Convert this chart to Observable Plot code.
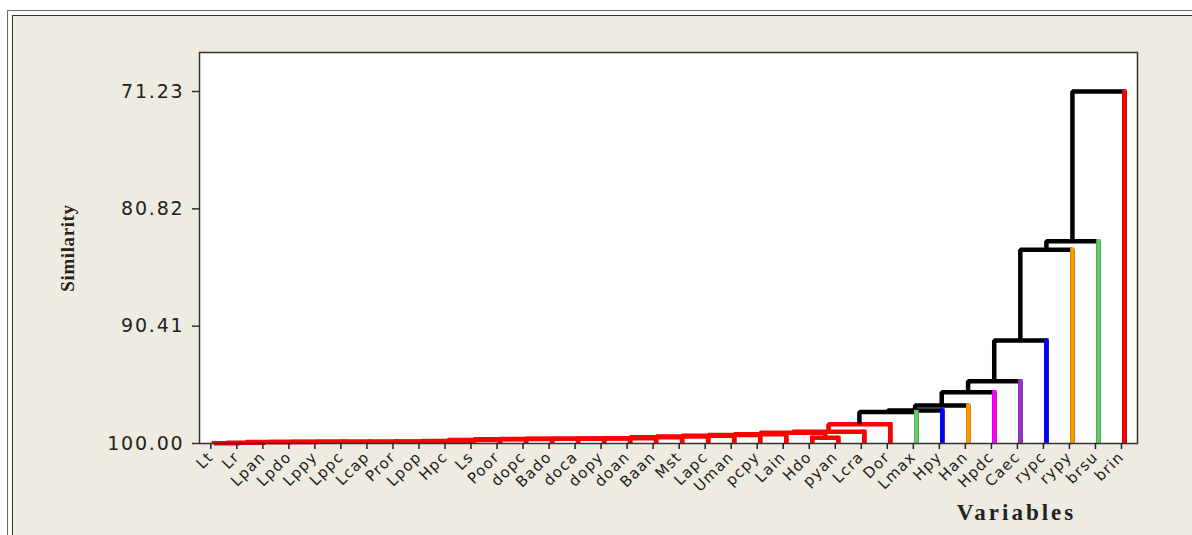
<!DOCTYPE html>
<html><head><meta charset="utf-8">
<script src="https://cdn.jsdelivr.net/npm/d3@7"></script>
<script src="https://cdn.jsdelivr.net/npm/@observablehq/plot@0.6"></script>
<style>
html,body{margin:0;padding:0;background:#fff;width:1192px;height:535px;overflow:hidden}
#outer{position:absolute;left:7px;top:10px;width:1200px;height:540px;border-left:1.5px solid #666;border-top:1.5px solid #666;background:#fafafa}
#inner{position:absolute;left:12px;top:15px;width:1200px;height:540px;border-left:1.5px solid #333;border-top:1.5px solid #333;background:#EEEBE1}
#chart{position:absolute;left:0;top:0}
.dend g[aria-label="y-axis tick label"] text{letter-spacing:1.8px}
.dend g[aria-label="x-axis tick label"] text{letter-spacing:1.2px}
.dend .xtitle text{letter-spacing:3px}
.dend .ytitle text{letter-spacing:0.6px}
</style></head><body>
<div id="outer"></div><div id="inner"></div><div id="chart"></div>
<script>
// Leaf labels (left to right)
const labels = ["Lt","Lr","Lpan","Lpdo","Lppy","Lppc","Lcap","Pror","Lpop","Hpc","Ls","Poor","dopc","Bado","doca","dopy","doan","Baan","Mst","Lapc","Uman","pcpy","Lain","Hdo","pyan","Lcra","Dor","Lmax","Hpy","Han","Hpdc","Caec","rypc","rypy","brsu","brin"];
// Final cluster membership of each leaf
const leafGroups = [1,1,1,1,1,1,1,1,1,1,1,1,1,1,1,1,1,1,1,1,1,1,1,1,1,1,1,2,3,4,5,6,7,8,9,10];
// Merge steps: node ids 0..35 are leaves, merge k creates node 36+k
const mergeLeft  = [0,36,37,38,39,40,41,42,43,44,45,46,47,48,49,50,51,52,53,54,55,56,23,57,59,60,61,62,63,64,65,66,67,68,69];
const mergeRight = [1,2,3,4,5,6,7,8,9,10,11,12,13,14,15,16,17,18,19,20,21,22,24,58,25,26,27,28,29,30,31,32,33,34,35];
const mergeSim   = [99.97,99.93,99.88,99.87,99.86,99.86,99.85,99.85,99.84,99.80,99.72,99.66,99.63,99.62,99.61,99.60,99.58,99.48,99.42,99.36,99.30,99.24,99.54,99.12,99.04,98.42,97.43,97.30,96.89,95.82,94.92,91.58,84.16,83.46,71.23];
// Y tick values
const yTicks = [71.23, 80.82, 90.41, 100.00];

const groupColor = {0:"#000000",1:"#FF0000",2:"#66CC66",3:"#0000FF",4:"#FF9900",5:"#FF00FF",6:"#9933CC",7:"#0000FF",8:"#FF9900",9:"#66CC66",10:"#FF0000"};

const n = labels.length;
const pos = labels.map((_, i) => i);
const hgt = labels.map(() => 100);
const grp = leafGroups.slice();
const parentSim = new Array(n);
const segs = [];
mergeLeft.forEach((a, k) => {
  const b = mergeRight[k], s = mergeSim[k], id = n + k;
  pos[id] = (pos[a] + pos[b]) / 2; hgt[id] = s;
  grp[id] = grp[a] === grp[b] ? grp[a] : 0;
  if (a < n) parentSim[a] = s;
  if (b < n) parentSim[b] = s;
  const color = groupColor[grp[id]];
  segs.push({id, x: pos[a], y: hgt[a], color}, {id, x: pos[a], y: s, color},
            {id, x: pos[b], y: s, color}, {id, x: pos[b], y: hgt[b], color});
});
const leafSegs = labels.flatMap((l, i) => [
  {id: "L" + i, x: i, y: 100, color: groupColor[leafGroups[i]]},
  {id: "L" + i, x: i, y: parentSim[i], color: groupColor[leafGroups[i]]}
]);

const chart = Plot.plot({
  className: "dend",
  width: 1192, height: 535,
  marginLeft: 199, marginRight: 55, marginTop: 52, marginBottom: 92,
  style: {background: "none", color: "#222", overflow: "visible"},
  x: {domain: [-0.55, 35.5]},
  y: {domain: [100, 68.04]},
  color: {type: "identity"},
  marks: [
    Plot.frame({fill: "white", stroke: "none"}),
    Plot.line(segs, {x: "x", y: "y", z: "id", stroke: "color", strokeWidth: 4.5, strokeLinejoin: "miter", strokeLinecap: "butt"}),
    Plot.line(leafSegs, {x: "x", y: "y", z: "id", stroke: "color", strokeWidth: 4.5, strokeLinecap: "square", clip: true}),
    Plot.frame({stroke: "#333", strokeWidth: 1.5}),
    Plot.axisX(d3.range(n), {tickFormat: i => labels[i], tickRotate: -45, tickSize: 6, tickPadding: 5, dx: -3, fontSize: 15, fontFamily: "DejaVu Sans", label: null, stroke: "#222", strokeWidth: 1.5}),
    Plot.axisY(yTicks, {tickFormat: d => d.toFixed(2), tickSize: 7, tickPadding: 8, fontSize: 19, fontFamily: "DejaVu Sans", label: null, stroke: "#333", strokeWidth: 1.5}),
    Plot.text(["Similarity"], {className: "ytitle", frameAnchor: "left", dx: -132, rotate: -90, textAnchor: "middle", lineAnchor: "middle", fontFamily: "Liberation Serif", fontWeight: "bold", fontSize: 19, fill: "#222"}),
    Plot.text(["Variables"], {className: "xtitle", frameAnchor: "bottom-right", dx: -121, dy: 69, textAnchor: "middle", lineAnchor: "middle", fontFamily: "Liberation Serif", fontWeight: "bold", fontSize: 23, fill: "#222"})
  ]
});
document.getElementById("chart").append(chart);
</script>
</body></html>
